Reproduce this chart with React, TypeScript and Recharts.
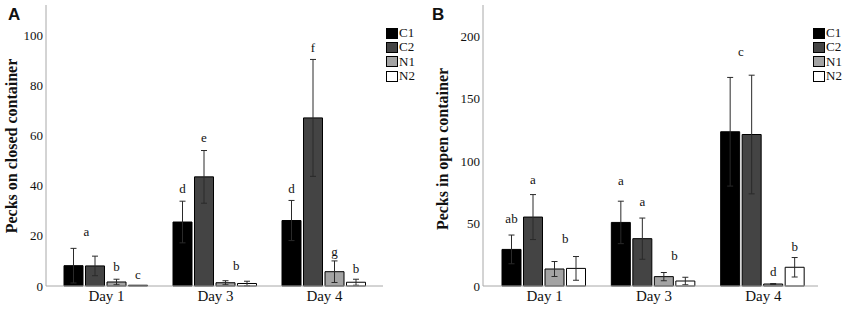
import React from 'react';
import { BarChart, Bar, XAxis, YAxis, ErrorBar, LabelList } from 'recharts';

// ---------- shared ----------
const days = ['Day 1', 'Day 3', 'Day 4'];
const seriesNames = ['C1', 'C2', 'N1', 'N2'];
const seriesFill = ['#000000', '#444444', '#a3a3a3', '#ffffff'];

// ---------- Panel A: pecks on closed container ----------
const closedC1 = [8.1, 25.5, 26.1];
const closedC1Err = [6.9, 8.3, 8.0];
const closedC2 = [8.0, 43.5, 67.0];
const closedC2Err = [3.9, 10.5, 23.3];
const closedN1 = [1.6, 1.3, 5.7];
const closedN1Err = [1.1, 0.8, 4.3];
const closedN2 = [0.3, 1.0, 1.5];
const closedN2Err = [0, 0.9, 1.2];
const closedTicks = [0, 20, 40, 60, 80, 100];

// letters above bars: [letter, height in data units, slot shift]
const closedLetters: Record<string, [string, number, number][]> = {
  C1: [['a', 21.6, 0.6], ['d', 38.6, 0], ['d', 38.6, 0]],
  C2: [['', 0, 0], ['e', 58.9, 0], ['f', 94.7, 0]],
  N1: [['b', 7.7, 0], ['b', 8.0, 0.5], ['g', 13.6, 0]],
  N2: [['c', 4.4, 0], ['', 0, 0], ['b', 6.6, 0]],
};

// ---------- Panel B: pecks in open container ----------
const openC1 = [29.3, 50.9, 123.5];
const openC1Err = [11.5, 17.0, 43.5];
const openC2 = [55.2, 37.9, 121.3];
const openC2Err = [18.0, 16.5, 47.5];
const openN1 = [13.6, 7.5, 1.6];
const openN1Err = [6.0, 3.3, 0.4];
const openN2 = [14.1, 4.0, 15.0];
const openN2Err = [9.5, 3.0, 7.8];
const openTicks = [0, 50, 100, 150, 200];

const openLetters: Record<string, [string, number, number][]> = {
  C1: [['ab', 53.3, 0], ['a', 84.0, 0], ['c', 187.4, 0.5]],
  C2: [['a', 84.8, 0], ['a', 67.2, 0], ['', 0, 0]],
  N1: [['b', 37.6, 0.5], ['b', 24.0, 0.5], ['d', 11.2, 0]],
  N2: [['', 0, 0], ['', 0, 0], ['b', 31.0, 0]],
};

function buildRows(vals: number[][], errs: number[][]) {
  return days.map((d, i) => {
    const row: Record<string, any> = { day: d };
    seriesNames.forEach((s, k) => {
      row[s] = vals[k][i];
      row[s + 'e'] = errs[k][i];
    });
    return row;
  });
}

const closedRows = buildRows(
  [closedC1, closedC2, closedN1, closedN2],
  [closedC1Err, closedC2Err, closedN1Err, closedN2Err]
);
const openRows = buildRows(
  [openC1, openC2, openN1, openN2],
  [openC1Err, openC2Err, openN1Err, openN2Err]
);

const BAR_GAP = 2.5;
const SERIF = "'Liberation Serif', 'Times New Roman', serif";

function makeLetterContent(letters: [string, number, number][]) {
  return (props: any) => {
    const vb = props.viewBox || props;
    const idx = props.index;
    const entry = letters[idx];
    if (!entry || !entry[0]) return null;
    const x = Number(vb.x);
    const y = Number(vb.y);
    const w = Number(vb.width);
    const h = Number(vb.height);
    const v = Number(props.value);
    if (!v || !h) return null;
    const base = y + h;
    const ppu = h / v;
    const py = base - entry[1] * ppu;
    const cx = x + w / 2 + entry[2] * (w + BAR_GAP);
    return (
      <text
        key={'lab' + idx}
        x={cx}
        y={py + 4}
        textAnchor="middle"
        fontFamily={SERIF}
        style={{ fontFamily: SERIF }}
        fontSize={13}
        fill="#111"
      >
        {entry[0]}
      </text>
    );
  };
}

function Panel(props: {
  rows: any[];
  ticks: number[];
  domainMax: number;
  letters: Record<string, [string, number, number][]>;
  yWidth: number;
  rightMargin: number;
  padLeft: number;
  padRight: number;
}) {
  return (
    <BarChart
      width={425}
      height={314}
      data={props.rows}
      margin={{ top: 5, right: props.rightMargin, bottom: 0, left: 0 }}
      barGap={BAR_GAP}
      barCategoryGap={12}
      style={{ fontFamily: SERIF }}
    >
      <XAxis
        dataKey="day"
        height={28}
        tickLine={false}
        tickSize={0}
        tickMargin={4}
        padding={{ left: props.padLeft, right: props.padRight }}
        axisLine={{ stroke: '#a8a8a8', strokeWidth: 1 }}
        tick={{ fontFamily: SERIF, fontSize: 15, fill: '#111', style: { fontFamily: SERIF } }}
      />
      <YAxis
        width={props.yWidth}
        domain={[0, props.domainMax]}
        ticks={props.ticks}
        tickLine={false}
        tickSize={0}
        tickMargin={3}
        axisLine={{ stroke: '#a8a8a8', strokeWidth: 1 }}
        tick={{ fontFamily: SERIF, fontSize: 13, fill: '#111', style: { fontFamily: SERIF } }}
      />
      {seriesNames.map((s, k) => (
        <Bar
          key={s}
          dataKey={s}
          fill={seriesFill[k]}
          stroke="#000"
          strokeWidth={1}
          isAnimationActive={false}
        >
          <ErrorBar dataKey={s + 'e'} width={3} stroke="#2a2a2a" strokeWidth={1} direction="y" />
          <LabelList dataKey={s} content={makeLetterContent(props.letters[s])} />
        </Bar>
      ))}
    </BarChart>
  );
}

function LegendBox(props: { left: number; top: number }) {
  return (
    <div style={{ position: 'absolute', left: props.left, top: props.top }}>
      {seriesNames.map((s, k) => (
        <div
          key={s}
          style={{ display: 'flex', alignItems: 'center', height: 14.3, fontFamily: SERIF, fontSize: 13, color: '#111' }}
        >
          <div
            style={{
              width: 10,
              height: 9,
              background: seriesFill[k],
              border: '1px solid #000',
              marginRight: 1,
            }}
          />
          <span>{s}</span>
        </div>
      ))}
    </div>
  );
}

function YLabel(props: { cx: number; cy: number; text: string }) {
  return (
    <div
      style={{
        position: 'absolute',
        left: props.cx,
        top: props.cy,
        transform: 'translate(-50%, -50%) rotate(-90deg)',
        whiteSpace: 'nowrap',
        fontFamily: SERIF,
        fontWeight: 'bold',
        fontSize: 16,
        color: '#111',
      }}
    >
      {props.text}
    </div>
  );
}

function PanelLetter(props: { left: number; text: string }) {
  return (
    <div
      style={{
        position: 'absolute',
        left: props.left,
        top: 5,
        fontFamily: "'Liberation Sans', Arial, sans-serif",
        fontWeight: 'bold',
        fontSize: 17,
        color: '#111',
        lineHeight: '20px',
      }}
    >
      {props.text}
    </div>
  );
}

export default function App() {
  return (
    <div
      style={{
        position: 'absolute',
        left: 0,
        top: 0,
        width: 850,
        height: 314,
        background: '#fff',
        overflow: 'hidden',
        fontFamily: SERIF,
      }}
    >
      <div style={{ position: 'absolute', left: 0, top: 0 }}>
        <Panel
          rows={closedRows}
          ticks={closedTicks}
          domainMax={112}
          letters={closedLetters}
          yWidth={46}
          rightMargin={42}
          padLeft={6}
          padRight={4}
        />
      </div>
      <div style={{ position: 'absolute', left: 425, top: 0 }}>
        <Panel
          rows={openRows}
          ticks={openTicks}
          domainMax={225}
          letters={openLetters}
          yWidth={58}
          rightMargin={32}
          padLeft={7}
          padRight={0}
        />
      </div>
      <LegendBox left={386} top={26} />
      <LegendBox left={813} top={26} />
      <YLabel cx={12} cy={146} text="Pecks on closed container" />
      <YLabel cx={443} cy={149} text="Pecks in open container" />
      <PanelLetter left={8} text="A" />
      <PanelLetter left={432} text="B" />
    </div>
  );
}
